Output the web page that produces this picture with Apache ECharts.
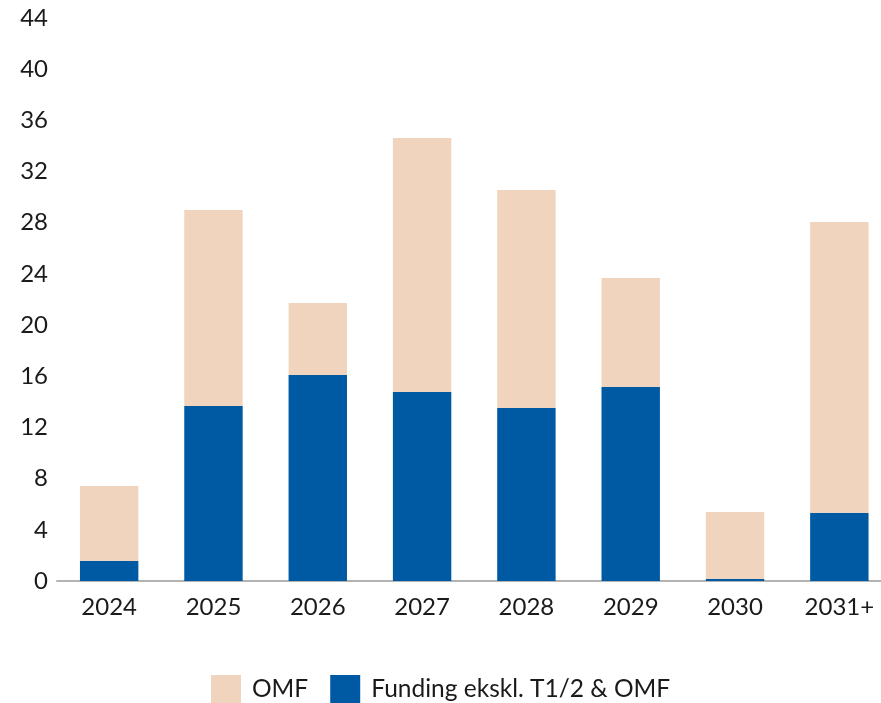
<!DOCTYPE html>
<html><head><meta charset="utf-8">
<script src="https://cdn.jsdelivr.net/npm/echarts@6/dist/echarts.min.js"></script>
<style>html,body{margin:0;padding:0;background:#fff}#c{width:881px;height:703px}</style>
</head><body><div id="c"></div>
<script>
const categories = ['2024','2025','2026','2027','2028','2029','2030','2031+'];
const funding = [1.56, 13.68, 16.1, 14.77, 13.52, 15.16, 0.16, 5.31];
const omf = [5.86, 15.32, 5.63, 19.85, 17.04, 8.52, 5.23, 22.75];
const yTicks = [0, 4, 8, 12, 16, 20, 24, 28, 32, 36, 40, 44];

const font = 'Lato';
const chart = echarts.init(document.getElementById('c'));
chart.setOption({
  animation: false,
  textStyle: { fontFamily: font },
  grid: { left: 57, width: 834.5, top: 18, height: 563, outerBoundsMode: 'none', containLabel: false },
  legend: {
    data: ['OMF', 'Funding ekskl. T1/2 & OMF'],
    top: 675, left: 211, padding: 0,
    itemWidth: 30, itemHeight: 28, itemGap: 22,
    icon: 'rect',
    textStyle: { fontSize: 24.5, color: '#1a1a1a', fontFamily: font, padding: [0, 0, 0, 6] }
  },
  xAxis: {
    type: 'category', data: categories,
    axisLine: { lineStyle: { color: '#b3b3b3', width: 2 } },
    axisTick: { show: false },
    axisLabel: { fontSize: 24, color: '#1a1a1a', margin: 14, fontFamily: font }
  },
  yAxis: {
    type: 'value', min: yTicks[0], max: yTicks[yTicks.length - 1], interval: 4,
    axisLine: { show: false }, axisTick: { show: false },
    splitLine: { show: false },
    axisLabel: { fontSize: 24, color: '#1a1a1a', margin: 9, fontFamily: font }
  },
  series: [
    { name: 'Funding ekskl. T1/2 & OMF', type: 'bar', stack: 's', data: funding,
      barWidth: '56%', itemStyle: { color: '#005aa3' } },
    { name: 'OMF', type: 'bar', stack: 's', data: omf,
      barWidth: '56%', itemStyle: { color: '#f1d4be' } }
  ]
});
</script></body></html>
